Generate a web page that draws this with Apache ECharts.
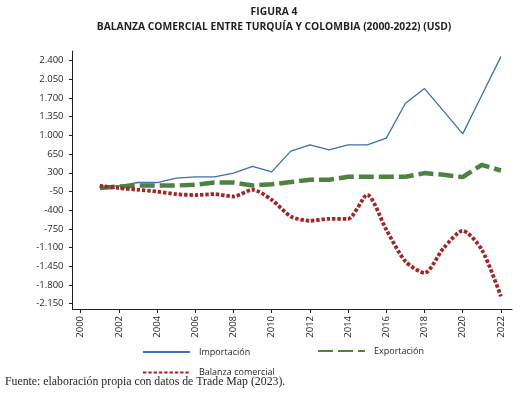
<!DOCTYPE html>
<html>
<head>
<meta charset="utf-8">
<script src="https://cdn.jsdelivr.net/npm/echarts@6/dist/echarts.min.js"></script>
<style>
  html, body { margin: 0; padding: 0; background: #fff; }
  #main { width: 521px; height: 398px; }
</style>
</head>
<body>
<div id="main"></div>
<script>
// años y valores (miles de USD)
var years = [2001, 2002, 2003, 2004, 2005, 2006, 2007, 2008, 2009, 2010, 2011,
             2012, 2013, 2014, 2015, 2016, 2017, 2018, 2019, 2020, 2021, 2022];
var importacion = [30, 57, 118, 118, 201, 225, 225, 294, 418, 318, 705,
                   823, 730, 823, 823, 949, 1603, 1876, 1453, 1029, 1752, 2475];
var exportacion = [14, 44, 62, 62, 62, 75, 118, 118, 62, 85, 126,
                   169, 169, 225, 225, 225, 225, 294, 262, 219, 449, 343];
var balanza = [57, 14, -18, -50, -99, -117, -99, -144, -18, -205, -518,
               -598, -561, -561, -112, -766, -1359, -1576, -1108, -785, -1140, -2014];
var yTicks = [-2150, -1800, -1450, -1100, -750, -400, -50, 300, 650, 1000, 1350, 1700, 2050, 2400];
var xTicks = [2000, 2002, 2004, 2006, 2008, 2010, 2012, 2014, 2016, 2018, 2020, 2022];

var FONT = 'Open Sans';

function miles(v) {
  // separador de miles con punto
  var s = String(Math.abs(v)).replace(/\B(?=(\d{3})+(?!\d))/g, '.');
  return (v < 0 ? '-' : '') + s;
}
function pares(vals) {
  return years.map(function (y, i) { return [y, vals[i]]; });
}

var chart = echarts.init(document.getElementById('main'));
var legendBase = {
  itemWidth: 47,
  itemHeight: 10,
  itemStyle: { opacity: 0 },
  textStyle: { fontFamily: FONT, fontSize: 9, color: '#231f20', padding: [0, 0, 0, 4] },
  selectedMode: false
};
chart.setOption({
  animation: false,
  backgroundColor: '#fff',
  graphic: [
    { type: 'text', x: 274, y: 12,
      style: { text: 'FIGURA 4', font: 'bold 10.3px "Open Sans"', fill: '#231f20', align: 'center', verticalAlign: 'middle' } },
    { type: 'text', x: 274, y: 27,
      style: { text: 'BALANZA COMERCIAL ENTRE TURQUÍA Y COLOMBIA (2000-2022) (USD)', font: 'bold 10.3px "Open Sans"', fill: '#231f20', align: 'center', verticalAlign: 'middle' } },
    { type: 'text', x: 5, y: 382,
      style: { text: 'Fuente: elaboración propia con datos de Trade Map (2023).', font: '11.8px "Liberation Serif"', fill: '#231f20', align: 'left', verticalAlign: 'middle' } }
  ],
  legend: [
    Object.assign({ data: ['Importación'], left: 137, top: 342.5 }, legendBase),
    Object.assign({ data: ['Exportación'], left: 312, top: 341.5 }, legendBase),
    Object.assign({ data: ['Balanza comercial'], left: 137, top: 363 }, legendBase)
  ],
  grid: { left: 72.5, right: 9, top: 51, bottom: 89, containLabel: false, outerBoundsMode: 'none' },
  xAxis: {
    type: 'value',
    min: 1999.57,
    max: 2022.58,
    axisLine: { onZero: false, lineStyle: { color: '#231f20', width: 1 } },
    axisTick: { show: true, length: 4, customValues: xTicks, lineStyle: { color: '#231f20' } },
    axisLabel: {
      customValues: xTicks,
      rotate: 90,
      margin: 7,
      fontFamily: FONT,
      fontSize: 9.5,
      color: '#231f20',
      formatter: function (v) { return String(v); }
    },
    splitLine: { show: false }
  },
  yAxis: {
    type: 'value',
    min: -2250,
    max: 2580,
    axisLine: { show: true, onZero: false, lineStyle: { color: '#231f20', width: 1 } },
    axisTick: { show: true, length: 3.5, customValues: yTicks, lineStyle: { color: '#231f20' } },
    axisLabel: {
      customValues: yTicks,
      margin: 9,
      fontFamily: FONT,
      fontSize: 9.5,
      color: '#231f20',
      formatter: function (v) { return miles(v); }
    },
    splitLine: { show: false }
  },
  series: [
    {
      name: 'Importación',
      type: 'line',
      data: pares(importacion),
      symbol: 'none',
      color: '#3c6fb3',
      lineStyle: { color: '#3c6fb3', width: 1.3 }
    },
    {
      name: 'Exportación',
      type: 'line',
      data: pares(exportacion),
      symbol: 'none',
      color: '#4f8140',
      lineStyle: { color: '#4f8140', width: 4.5, type: [15, 5], cap: 'butt' }
    },
    {
      name: 'Balanza comercial',
      type: 'line',
      data: pares(balanza),
      symbol: 'none',
      smooth: 0.25,
      color: '#a0262a',
      lineStyle: { color: '#a0262a', width: 3.8, type: [3.4, 1.9], cap: 'butt' }
    }
  ]
});
</script>
</body>
</html>
